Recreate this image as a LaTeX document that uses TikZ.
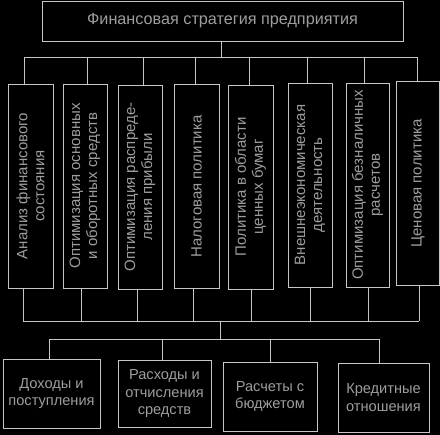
\documentclass[tikz,border=0pt]{standalone}
\usepackage{fontspec}
\setmainfont{Liberation Sans}
\definecolor{lin}{gray}{0.78}
\definecolor{txt}{gray}{0.62}
\begin{document}
\begin{tikzpicture}[x=1pt,y=-1pt,
  box/.style={draw=lin,line width=0.9pt,inner sep=0pt,text=txt,align=center,font=\fontsize{14.6}{17.5}\selectfont},
  vbox/.style={box,minimum width=#1,minimum height=204},
  vtext/.style={rotate=90,text=txt,align=center,inner sep=0pt,font=\fontsize{15}{17}\selectfont},
  con/.style={draw=lin,line width=0.9pt}]
\fill[black] (0,0) rectangle (440,435);
\useasboundingbox (0,0) rectangle (440,435);
\node[box,minimum width=361,minimum height=40,font=\fontsize{16.2}{19}\selectfont] (title) at (222.5,21) {Финансовая стратегия предприятия};
% vertical boxes
\node[vbox=45] (b1) at (30.5,186) {};
\node[vtext] (l1) at (b1.center) {Анализ финансового\\состояния};
\node[vbox=44] (b2) at (85,186) {};
\node[vtext] (l2) at (b2.center) {Оптимизация основных\\и оборотных средств};
\node[vbox=44] (b3) at (140,187) {};
\node[vtext] (l3) at (b3.center) {Оптимизация распреде-\\ления прибыли};
\node[vbox=45] (b4) at (196.5,186.5) {};
\node[vtext] (l4) at (b4.center) {Налоговая политика};
\node[vbox=45] (b5) at (250.5,187) {};
\node[vtext] (l5) at (b5.center) {Политика в области\\ценных бумаг};
\node[vbox=44] (b6) at (310,185) {};
\node[vtext] (l6) at (b6.center) {Внешнеэкономическая\\деятельность};
\node[vbox=43] (b7) at (367.5,185) {};
\node[vtext] (l7) at (b7.center) {Оптимизация безналичных\\расчетов};
\node[vbox=43] (b8) at (418,183.5) {};
\node[vtext] (l8) at (b8.center) {Ценовая политика};
% bottom boxes
\node[box,minimum width=97,minimum height=69] (c1) at (51.5,393.5) {Доходы и\\поступления};
\node[box,minimum width=93,minimum height=67] (c2) at (164.5,393.5) {Расходы и\\отчисления\\средств};
\node[box,minimum width=94,minimum height=69] (c3) at (270,396.5) {Расчеты с\\бюджетом};
\node[box,minimum width=91,minimum height=69] (c4) at (383.5,397.5) {Кредитные\\отношения};
% bus coordinates
\coordinate (tb) at (221,57);
\coordinate (tL) at (24,57);
\coordinate (tR) at (417,57);
\coordinate (t1) at (24,57);
\coordinate (t2) at (87,57);
\coordinate (t3) at (143,57);
\coordinate (t4) at (195,57);
\coordinate (t5) at (249,57);
\coordinate (t6) at (307,57);
\coordinate (t7) at (364,57);
\coordinate (t8) at (417,57);
\coordinate (u1) at (23,321);
\coordinate (u2) at (81,321);
\coordinate (u3) at (137,321);
\coordinate (u4) at (193,321);
\coordinate (u5) at (251,321);
\coordinate (u6) at (310,321);
\coordinate (u7) at (368,321);
\coordinate (u8) at (419,321);
\coordinate (um) at (220,321);
\coordinate (dm) at (220,339);
\coordinate (d1) at (49,339);
\coordinate (d2) at (162,339);
\coordinate (d3) at (270,339);
\coordinate (d4) at (379,339);
\draw[con] (title.south -| tb) -- (tb);
\draw[con] (tL) -- (tR);
\foreach \i in {1,...,8} {\draw[con] (t\i) -- (t\i |- b\i.north);}
\draw[con] (u1) -- (u8);
\foreach \i in {1,...,8} {\draw[con] (u\i) -- (u\i |- b\i.south);}
\draw[con] (um) -- (dm);
\draw[con] (d1) -- (d4);
\foreach \i in {1,...,4} {\draw[con] (d\i) -- (d\i |- c\i.north);}
\end{tikzpicture}
\end{document}
